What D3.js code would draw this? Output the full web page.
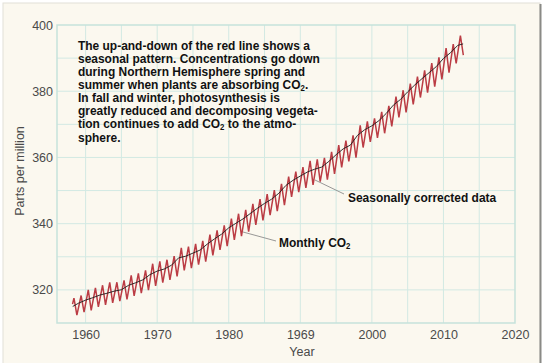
<!DOCTYPE html>
<html lang="en">
<head>
<meta charset="utf-8">
<script src="https://cdn.jsdelivr.net/npm/d3@7"></script>
<style>
  html, body { margin: 0; padding: 0; background: #ffffff; }
  svg { display: block; }
  .tick-label { font-family: "Liberation Sans", Arial, sans-serif; font-size: 12.5px; fill: #4a4a4a; }
  .note { font-family: "Liberation Sans Narrow", "Liberation Sans", Arial, sans-serif; font-weight: bold; font-size: 13px; fill: #111; }
</style>
</head>
<body>
<script>
// ---- data (read off the picture / Mauna Loa record) ----
// seasonal extremes: May peak and Oct trough for each year, 1958-2012
var startPoint = [1958.17, 315.7];
var seasonYears = [1958,1959,1960,1961,1962,1963,1964,1965,1966,1967,1968,1969,1970,1971,1972,1973,1974,1975,1976,1977,
  1978,1979,1980,1981,1982,1983,1984,1985,1986,1987,1988,1989,1990,1991,1992,1993,1994,1995,1996,1997,
  1998,1999,2000,2001,2002,2003,2004,2005,2006,2007,2008,2009,2010,2011,2012];
var peaks = [317.5,318.3,320.0,320.6,321.4,322.3,322.3,322.9,324.4,325.0,325.9,327.9,328.6,329.1,330.2,332.7,333.1,333.9,334.8,336.7,
  338.0,339.5,341.5,343.0,344.2,346.0,347.4,348.9,350.1,352.0,354.2,355.7,357.1,359.0,359.4,359.9,361.7,363.7,365.1,366.7,
  369.7,370.9,371.8,373.8,375.6,378.4,380.3,382.3,384.4,386.3,388.5,390.2,393.0,394.2,396.8];
var troughs = [312.4,313.3,313.8,314.9,315.5,316.1,316.6,317.1,318.2,319.0,319.9,321.2,322.2,323.0,324.1,325.9,326.6,327.6,328.5,330.4,
  332.1,333.2,335.1,336.2,337.6,339.6,341.0,342.6,343.8,345.6,348.1,349.5,350.8,351.7,352.7,353.3,355.0,357.0,358.8,359.9,
  363.0,364.7,365.9,367.3,369.4,372.1,373.6,376.0,378.1,379.6,381.4,383.6,385.6,388.4,390.9];
// seasonally corrected (annual mean) values
var trendYears = [1958.2,1959,1960,1961,1962,1963,1964,1965,1966,1967,1968,1969,1970,1971,1972,1973,1974,1975,1976,1977,
  1978,1979,1980,1981,1982,1983,1984,1985,1986,1987,1988,1989,1990,1991,1992,1993,1994,1995,1996,1997,
  1998,1999,2000,2001,2002,2003,2004,2005,2006,2007,2008,2009,2010,2011,2012,2012.75];
var trendValues = [315.0,315.97,316.91,317.64,318.45,318.99,319.62,320.04,321.38,322.16,323.04,324.62,325.68,326.32,327.45,329.68,330.18,331.11,332.04,333.83,
  335.40,336.84,338.75,340.11,341.45,343.05,344.65,346.12,347.42,349.19,351.57,353.12,354.39,355.61,356.45,357.10,358.83,360.82,362.61,363.73,
  366.70,368.38,369.55,371.14,373.28,375.80,377.52,379.80,381.90,383.79,385.60,387.43,389.90,391.65,393.85,394.3];

var xTicks = [1960,1970,1980,1990,2000,2010,2020];
var xTickLabels = ["1960","1970","1980","1969","2000","2010","2020"];
var yTicks = [320,340,360,380,400];

var noteLines = [
  ["The up-and-down of the red line shows a"],
  ["seasonal pattern. Concentrations go down"],
  ["during Northern Hemisphere spring and"],
  ["summer when plants are absorbing CO", "2", "."],
  ["In fall and winter, photosynthesis is"],
  ["greatly reduced and decomposing vegeta-"],
  ["tion continues to add CO", "2", " to the atmo-"],
  ["sphere."]
];

// ---- layout ----
var W = 546, H = 363;
var svg = d3.select("body").append("svg").attr("width", W).attr("height", H);

// card
svg.append("rect").attr("x", 3).attr("y", 3).attr("width", 537).attr("height", H)
  .attr("fill", "#fbf8ef").attr("stroke", "#e2e0d8").attr("stroke-width", 1);
svg.append("line").attr("x1", 540.5).attr("x2", 540.5).attr("y1", 4).attr("y2", H)
  .attr("stroke", "#8a8a86").attr("stroke-width", 2);

var x = d3.scaleLinear().domain([1956, 2020]).range([57, 515]);
var y = d3.scaleLinear().domain([310, 400]).range([323, 25]);

// grid
var grid = svg.append("g").attr("stroke", "#d2e9e3").attr("stroke-width", 1);
grid.selectAll(".v").data(d3.range(1960, 2020, 5)).enter().append("line")
  .attr("x1", d => x(d)).attr("x2", d => x(d)).attr("y1", y(400)).attr("y2", y(310));
grid.selectAll(".h").data(d3.range(320, 400, 10)).enter().append("line")
  .attr("y1", d => y(d)).attr("y2", d => y(d)).attr("x1", x(1956)).attr("x2", x(2020));
svg.append("rect").attr("x", x(1956)).attr("y", y(400))
  .attr("width", x(2020) - x(1956)).attr("height", y(310) - y(400))
  .attr("fill", "none").attr("stroke", "#c6e2db").attr("stroke-width", 1.5);

// axes labels (ticks hidden, labels only)
var xAxis = d3.axisBottom(x).tickValues(xTicks).tickSize(0).tickPadding(0)
  .tickFormat((d, i) => xTickLabels[i]);
var gx = svg.append("g").attr("transform", "translate(0,330)").call(xAxis);
gx.select(".domain").remove();
gx.selectAll("text").attr("class", "tick-label").attr("fill", null).attr("dy", "0.71em");

var yAxis = d3.axisLeft(y).tickValues(yTicks).tickSize(0).tickPadding(5);
var gy = svg.append("g").attr("transform", "translate(" + 53 + ",0)").call(yAxis);
gy.select(".domain").remove();
gy.selectAll("text").attr("class", "tick-label").attr("fill", null).attr("x", 0);

svg.append("text").attr("class", "tick-label").attr("x", 302).attr("y", 356)
  .attr("text-anchor", "middle").text("Year");
svg.append("text").attr("class", "tick-label")
  .attr("transform", "translate(24," + 171 + ") rotate(-90)")
  .attr("text-anchor", "middle").text("Parts per million");

// monthly zigzag series
var monthly = [startPoint];
seasonYears.forEach(function (yr, i) {
  monthly.push([yr + 0.37, peaks[i]]);
  monthly.push([yr + 0.78, troughs[i]]);
});
var line = d3.line().x(d => x(d[0])).y(d => y(d[1]));
svg.append("path").datum(monthly).attr("d", line)
  .attr("fill", "none").attr("stroke", "#bb3c44").attr("stroke-width", 1.5)
  .attr("stroke-linejoin", "miter");

var trend = trendYears.map((d, i) => [d, trendValues[i]]);
svg.append("path").datum(trend).attr("d", line)
  .attr("fill", "none").attr("stroke", "#1c1c1c").attr("stroke-width", 0.9);

// leader lines
svg.append("line").attr("x1", 315).attr("y1", 180).attr("x2", 344).attr("y2", 194)
  .attr("stroke", "#8c8c8c").attr("stroke-width", 0.9);
svg.append("line").attr("x1", 243).attr("y1", 232).attr("x2", 276).attr("y2", 241)
  .attr("stroke", "#8c8c8c").attr("stroke-width", 0.9);

// condensed label text (narrowed horizontally)
function narrowText(x0, y0) {
  return svg.append("g").attr("transform", "translate(" + x0 + "," + y0 + ") scale(0.92,1)")
    .append("text").attr("class", "note").attr("x", 0).attr("y", 0);
}
narrowText(348, 201.5).text("Seasonally corrected data");
var mt = narrowText(279, 246.5);
mt.append("tspan").text("Monthly CO");
mt.append("tspan").attr("font-size", "8.5px").attr("dy", 2).text("2");

// annotation block
noteLines.forEach(function (parts, i) {
  var t = narrowText(78, 49.5 + i * 13.15);
  parts.forEach(function (p, j) {
    var s = t.append("tspan").text(p);
    if (j === 1) s.attr("font-size", "8.5px").attr("dy", 2);
    if (j === 2) s.attr("dy", -2);
  });
});
</script>
</body>
</html>
